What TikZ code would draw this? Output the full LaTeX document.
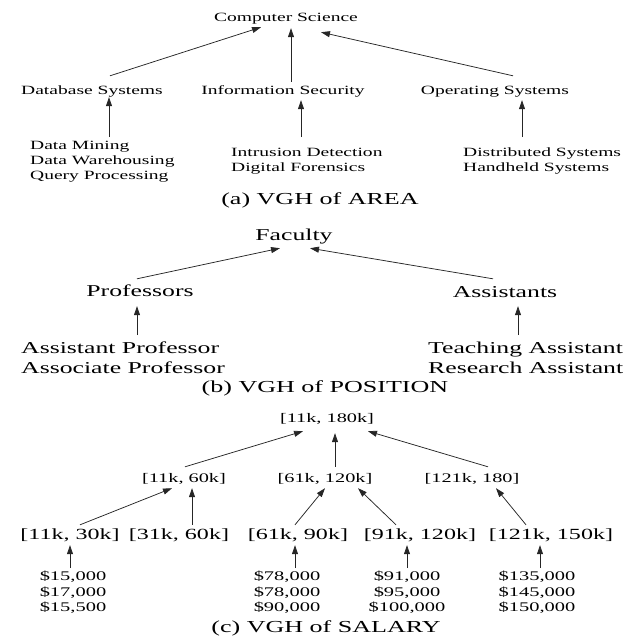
\documentclass[tikz,border=0pt]{standalone}
\usepackage{fontspec}
\setmainfont[FakeStretch=1.55]{Liberation Serif}
\usepackage{tikz}
\usetikzlibrary{arrows.meta}

\tikzset{
  areanode/.style={inner sep=0pt, font=\fontsize{12.6}{15}\selectfont, text height=9pt, text depth=3pt},
  arealeaf/.style={inner sep=0pt, align=left, anchor=north west, font=\fontsize{12.6}{15}\selectfont},
  posnode/.style={inner sep=0pt, font=\fontsize{16.6}{20}\selectfont, text height=12pt, text depth=4pt},
  posleaf/.style={inner sep=0pt, align=left, anchor=north west, font=\fontsize{16.6}{20}\selectfont},
  salnode/.style={inner sep=0pt, font=\fontsize{13.1}{15.5}\selectfont, text height=9pt, text depth=3pt},
  rangenode/.style={inner sep=0pt, font=\fontsize{15.5}{18}\selectfont, text height=11pt, text depth=4pt},
  salleaf/.style={inner sep=0pt, align=center, anchor=north, font=\fontsize{13.2}{15.5}\selectfont},
  subcap/.style={inner sep=0pt, font=\fontsize{16.8}{20}\selectfont},
  gen/.style={draw=black!85, line width=0.75pt, -{Triangle[length=9pt,width=6pt]}}
}

\begin{document}
\begin{tikzpicture}[x=1pt, y=-1pt]
  \useasboundingbox (0,0) rectangle (624,643);

  % (a) area
  \node[areanode] (cs) at (286,18) {Computer Science};
  \node[areanode] (db) at (92,91) {Database Systems};
  \node[areanode] (is) at (283,91) {Information Security};
  \node[areanode] (os) at (495,91) {Operating Systems};
  \node[arealeaf] (dbl) at (30,141) {Data Mining\\Data Warehousing\\Query Processing};
  \node[arealeaf] (isl) at (231,148) {Intrusion Detection\\Digital Forensics};
  \node[arealeaf] (osl) at (463,148) {Distributed Systems\\Handheld Systems};
  \node[subcap] (capa) at (320,200) {(a) VGH of AREA};

  \draw[gen] ([xshift=18pt,yshift=9pt]db.north) -- ([xshift=-25pt,yshift=-3pt]cs.south);
  \draw[gen] ([xshift=8pt,yshift=3pt]is.north) -- ([xshift=5pt,yshift=-4pt]cs.south);
  \draw[gen] ([xshift=18pt,yshift=9pt]os.north) -- ([xshift=35pt,yshift=-8pt]cs.south);
  \draw[gen] ([xshift=79pt,yshift=4pt]dbl.north west) -- ([xshift=17pt]db.south);
  \draw[gen] ([xshift=70pt,yshift=11pt]isl.north west) -- ([xshift=18pt,yshift=-3pt]is.south);
  \draw[gen] ([xshift=59pt,yshift=11pt]osl.north west) -- ([xshift=27pt,yshift=-3pt]os.south);

  % (b) position
  \node[posnode] (fac) at (294,236) {Faculty};
  \node[posnode] (prof) at (140,292) {Professors};
  \node[posnode] (asst) at (505,293) {Assistants};
  \node[posleaf] (profl) at (21,342) {Assistant Professor\\Associate Professor};
  \node[posleaf] (asstl) at (428,342) {Teaching Assistant\\Research Assistant};
  \node[subcap] (capb) at (325,388) {(b) VGH of POSITION};

  \draw[gen] ([xshift=-3pt,yshift=5pt]prof.north) -- ([xshift=-14pt,yshift=-4pt]fac.south);
  \draw[gen] ([xshift=-12pt,yshift=6pt]asst.north) -- ([xshift=16pt,yshift=-4pt]fac.south);
  \draw[gen] ([xshift=116pt,yshift=7pt]profl.north west) -- ([xshift=-3pt,yshift=-6pt]prof.south);
  \draw[gen] ([xshift=90pt,yshift=7pt]asstl.north west) -- ([xshift=13pt,yshift=-5pt]asst.south);

  % (c) salary
  \node[salnode] (r0) at (327,419) {{[}11k, 180k{]}};
  \node[salnode] (r1) at (184,479) {{[}11k, 60k{]}};
  \node[salnode] (r2) at (325,479) {{[}61k, 120k{]}};
  \node[salnode] (r3) at (472,479) {{[}121k, 180{]}};
  \node[rangenode] (r11) at (70,536) {{[}11k, 30k{]}};
  \node[rangenode] (r12) at (179,536) {{[}31k, 60k{]}};
  \node[rangenode] (r21) at (298,536) {{[}61k, 90k{]}};
  \node[rangenode] (r22) at (420,536) {{[}91k, 120k{]}};
  \node[rangenode] (r31) at (551,536) {{[}121k, 150k{]}};
  \node[salleaf] (v11) at (73,571) {\$15,000\\\$17,000\\\$15,500};
  \node[salleaf] (v21) at (287,571) {\$78,000\\\$78,000\\\$90,000};
  \node[salleaf] (v22) at (407,571) {\$91,000\\\$95,000\\\$100,000};
  \node[salleaf] (v31) at (537,571) {\$135,000\\\$145,000\\\$150,000};
  \node[subcap] (capc) at (326,628) {(c) VGH of SALARY};

  \draw[gen] ([xshift=1pt,yshift=6pt]r1.north) -- ([xshift=-24pt,yshift=-6pt]r0.south);
  \draw[gen] ([xshift=10pt,yshift=6pt]r2.north) -- ([xshift=8pt,yshift=-8pt]r0.south);
  \draw[gen] ([xshift=16pt,yshift=6pt]r3.north) -- ([xshift=41pt,yshift=-6pt]r0.south);
  \draw[gen] ([xshift=10pt,yshift=3.5pt]r11.north) -- ([xshift=-12pt,yshift=-3pt]r1.south);
  \draw[gen] ([xshift=13pt,yshift=3.5pt]r12.north) -- ([xshift=8pt,yshift=-3pt]r1.south);
  \draw[gen] ([xshift=-3pt,yshift=3.5pt]r21.north) -- ([yshift=-3pt]r2.south);
  \draw[gen] ([xshift=-24pt,yshift=3.5pt]r22.north) -- ([xshift=33pt,yshift=-3pt]r2.south);
  \draw[gen] ([xshift=-25pt,yshift=3.5pt]r31.north) -- ([xshift=24pt,yshift=-3pt]r3.south);
  \draw[gen] ([xshift=-3pt,yshift=3pt]v11.north) -- ([yshift=-1.5pt]r11.south);
  \draw[gen] ([xshift=8pt,yshift=3pt]v21.north) -- ([xshift=-3pt,yshift=-1.5pt]r21.south);
  \draw[gen] ([yshift=3pt]v22.north) -- ([xshift=-13pt,yshift=-1.5pt]r22.south);
  \draw[gen] ([xshift=3pt,yshift=3pt]v31.north) -- ([xshift=-11pt,yshift=-1.5pt]r31.south);
\end{tikzpicture}
\end{document}
